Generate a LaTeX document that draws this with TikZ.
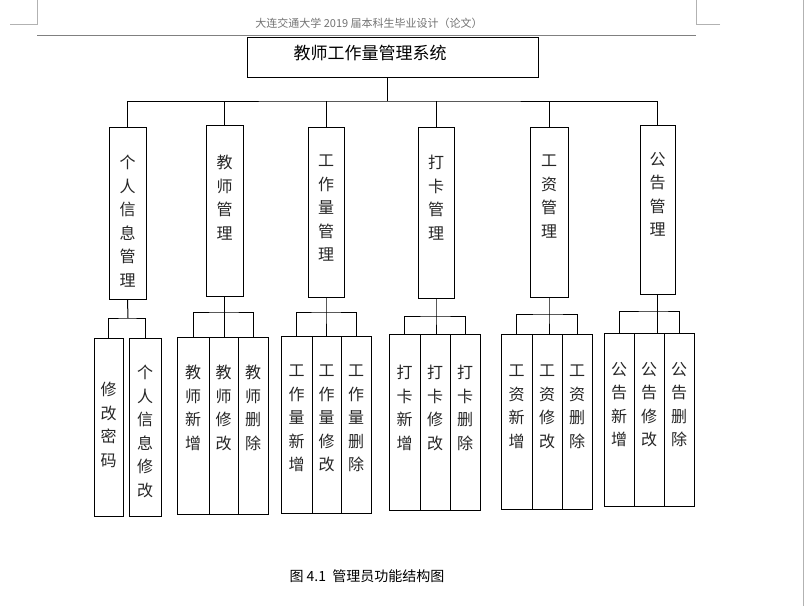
\documentclass[tikz,border=0pt]{standalone}
\usepackage{fontspec}
\setmainfont{Noto Sans CJK SC}
\begin{document}
\begin{tikzpicture}[x=1pt,y=-1pt,
  bx/.style={draw,line width=1pt,inner sep=0pt,anchor=center},
  lbl/.style={inner sep=0pt,align=center,font=\fontsize{16}{23.5}\selectfont,text=black!85}]
\useasboundingbox (0,0) rectangle (805,606);
\fill[white] (0,0) rectangle (805,606);
% page decorations
\draw[gray!60] (10,24) -- (37,24) -- (37,0);
\draw[gray!60] (720,24) -- (696,24) -- (696,0);
\draw[gray!60] (803,0) -- (803,606);
\draw[gray,line width=0.8pt] (37,35) -- (696,35);
\node[text=gray!90!black,font=\fontsize{11}{13}\selectfont] (hdr) at (369,23) {大连交通大学 2019 届本科生毕业设计（论文）};
\newcommand\bx[7]{\node[bx,minimum width={(#4-#2)*1pt},minimum height={(#5-#3)*1pt}] (#1) at ({(#2+#4)/2},{(#3+#5)/2}) {};
  \node[lbl,anchor=north] (#1t) at ({(#2+#4)/2},#7) {#6};}
% top
\node[bx,minimum width=291pt,minimum height=40pt] (top) at (392.5,57) {};
\node[font=\fontsize{17}{20}\selectfont] (topt) at (370,53) {教师工作量管理系统};
% level 2
\bx{b1}{109}{127}{146}{299}{个\\人\\信\\息\\管\\理}{155}
\bx{b2}{206}{125}{243}{296}{教\\师\\管\\理}{155}
\bx{b3}{308}{127}{344}{297}{工\\作\\量\\管\\理}{155}
\bx{b4}{418}{127}{454}{298}{打\\卡\\管\\理}{155}
\bx{b5}{530}{127}{568}{297}{工\\资\\管\\理}{155}
\bx{b6}{640}{125}{675}{294}{公\\告\\管\\理}{152}
\coordinate (bus) at (387,101);
\draw[line width=1pt] (bus |- top.south) -- (bus);
\draw[line width=1pt] (b1.north) |- (bus) -| (b6.north);
\foreach \b in {b2,b3,b4,b5}{\draw[line width=1pt] (\b.north) -- (\b.north |- bus);}
% level 3
\bx{c11}{94}{338}{123}{516}{修\\改\\密\\码}{382}
\bx{c12}{129}{338}{161}{516}{个\\人\\信\\息\\修\\改}{365}
\bx{c21}{177}{337}{209}{514}{教\\师\\新\\增}{365}
\bx{c22}{209}{337}{238}{514}{教\\师\\修\\改}{365}
\bx{c23}{238}{337}{268}{514}{教\\师\\删\\除}{365}
\bx{c31}{281}{336}{312}{513}{工\\作\\量\\新\\增}{365}
\bx{c32}{312}{336}{341}{513}{工\\作\\量\\修\\改}{365}
\bx{c33}{341}{336}{371}{513}{工\\作\\量\\删\\除}{365}
\bx{c41}{389}{334}{420}{510}{打\\卡\\新\\增}{365}
\bx{c42}{420}{334}{450}{510}{打\\卡\\修\\改}{365}
\bx{c43}{450}{334}{480}{510}{打\\卡\\删\\除}{365}
\bx{c51}{501}{334}{532}{509}{工\\资\\新\\增}{365}
\bx{c52}{532}{334}{562}{509}{工\\资\\修\\改}{365}
\bx{c53}{562}{334}{592}{509}{工\\资\\删\\除}{365}
\bx{c61}{604}{333}{634}{506}{公\\告\\新\\增}{362}
\bx{c62}{634}{333}{664}{506}{公\\告\\修\\改}{362}
\bx{c63}{664}{333}{694}{506}{公\\告\\删\\除}{362}
\coordinate (j1) at (128,318);
\draw[line width=1pt] (b1.south) -- (j1);
\draw[line width=1pt] (c11.north) |- (j1) -| (c12.north);
\foreach \g/\yy in {2/312,3/312,4/316,5/314,6/311}{
  \coordinate (j\g) at (b\g.south |- 0,\yy);
  \draw[line width=1pt] (b\g.south) -- (j\g) -- (j\g |- c\g2.north);
  \draw[line width=1pt] (c\g1.north) |- (j\g) -| (c\g3.north);
}
\node[font=\fontsize{14}{16}\selectfont] (cap) at (367,576) {图 4.1\ \ 管理员功能结构图};
\end{tikzpicture}
\end{document}
